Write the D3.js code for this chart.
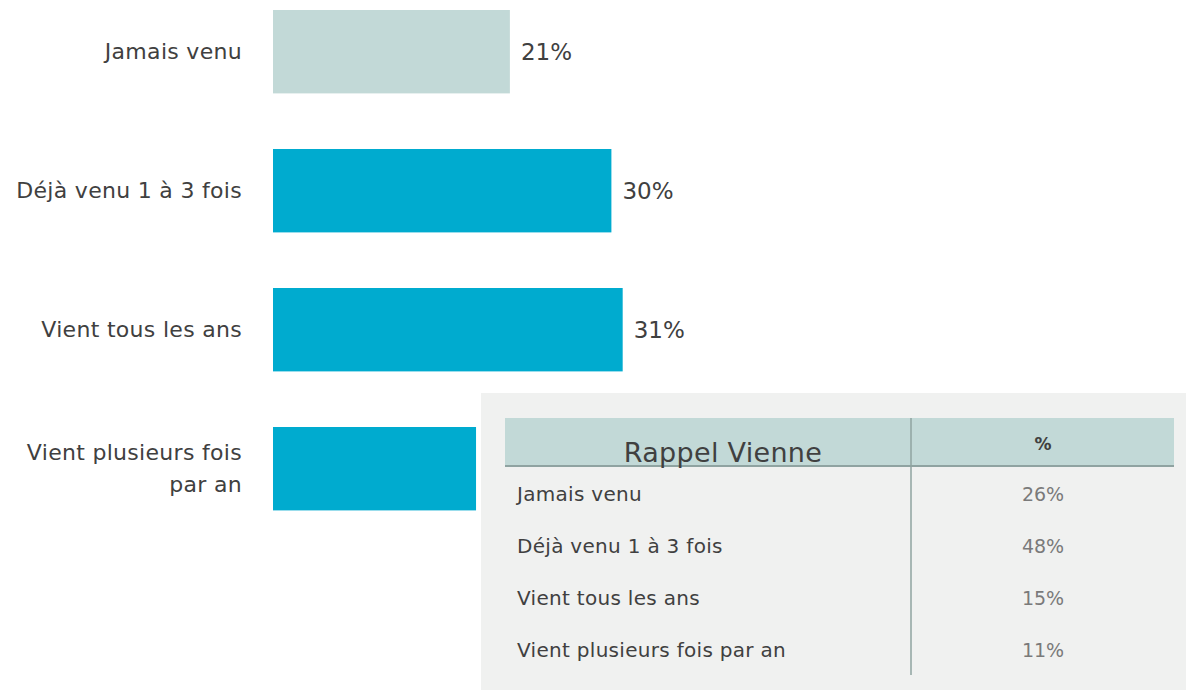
<!DOCTYPE html>
<html>
<head>
<meta charset="utf-8">
<script src="https://cdn.jsdelivr.net/npm/d3@7"></script>
<style>
  body { margin: 0; background: #fff; }
  svg { display: block; font-family: "DejaVu Sans", sans-serif; }
</style>
</head>
<body>
<svg width="1186" height="690"></svg>
<script>
  // bar chart data
  const categories = ["Jamais venu", "Déjà venu 1 à 3 fois", "Vient tous les ans", "Vient plusieurs fois par an"];
  const categoryLines = [["Jamais venu"], ["Déjà venu 1 à 3 fois"], ["Vient tous les ans"], ["Vient plusieurs fois", "par an"]];
  const values = [21, 30, 31, 18];

  // overlay table ("Rappel Vienne")
  const tableTitle = "Rappel Vienne";
  const tableHead = "%";
  const tableRows = ["Jamais venu", "Déjà venu 1 à 3 fois", "Vient tous les ans", "Vient plusieurs fois par an"];
  const tableValues = ["26%", "48%", "15%", "11%"];

  const svg = d3.select("svg");

  const xScale = d3.scaleLinear().domain([0, 100]).range([273, 273 + 1128]);
  const yScale = d3.scaleBand()
    .domain(categories)
    .range([-17.8, 538.2])
    .paddingInner(0.4)
    .paddingOuter(0.2);

  const bars = svg.append("g");

  bars.selectAll("rect")
    .data(values)
    .enter()
    .append("rect")
    .attr("x", xScale(0))
    .attr("y", (d, i) => yScale(categories[i]))
    .attr("width", (d) => xScale(d) - xScale(0))
    .attr("height", yScale.bandwidth())
    .attr("fill", (d, i) => (i === 0 ? "#c2d9d7" : "#00abcf"));

  bars.selectAll("text.value")
    .data(values)
    .enter()
    .append("text")
    .attr("class", "value")
    .attr("x", (d) => xScale(d) + 11)
    .attr("y", (d, i) => yScale(categories[i]) + yScale.bandwidth() / 2)
    .attr("dy", "0.35em")
    .attr("fill", "#404040")
    .style("font-size", "23px")
    .text((d) => d + "%");

  const labels = bars.selectAll("text.cat")
    .data(categoryLines)
    .enter()
    .append("text")
    .attr("class", "cat")
    .attr("text-anchor", "end")
    .attr("fill", "#404040")
    .style("font-size", "22px")
    .style("letter-spacing", "0.3px")
    .attr("transform", (d, i) => `translate(242, ${yScale(categories[i]) + yScale.bandwidth() / 2})`);

  labels.selectAll("tspan")
    .data((d) => d.map((t, j) => ({ t, j, n: d.length })))
    .enter()
    .append("tspan")
    .attr("x", 0)
    .attr("y", (d) => (d.j - (d.n - 1) / 2) * 32)
    .attr("dy", "0.35em")
    .text((d) => d.t);

  // table overlay
  const tbl = svg.append("g");

  tbl.append("rect")
    .attr("x", 481).attr("y", 393)
    .attr("width", 705).attr("height", 297)
    .attr("fill", "#f0f1f0");

  tbl.append("rect")
    .attr("x", 505).attr("y", 418)
    .attr("width", 669).attr("height", 48)
    .attr("fill", "#c2d9d7");

  tbl.append("line")
    .attr("x1", 505).attr("x2", 1174)
    .attr("y1", 466).attr("y2", 466)
    .attr("stroke", "#8fa3a1").attr("stroke-width", 2);

  tbl.append("line")
    .attr("x1", 911).attr("x2", 911)
    .attr("y1", 418).attr("y2", 675)
    .attr("stroke", "#8fa3a1").attr("stroke-width", 1.5);

  tbl.append("text")
    .attr("x", 723).attr("y", 462)
    .attr("text-anchor", "middle")
    .attr("fill", "#404040")
    .style("font-size", "27px")
    .style("letter-spacing", "0.3px")
    .text(tableTitle);

  tbl.append("text")
    .attr("x", 1043).attr("y", 450)
    .attr("text-anchor", "middle")
    .attr("fill", "#404040")
    .style("font-size", "17px")
    .style("font-weight", "bold")
    .text(tableHead);

  const rowY = d3.scalePoint().domain(tableRows).range([494, 650]);

  tbl.selectAll("text.row")
    .data(tableRows)
    .enter()
    .append("text")
    .attr("class", "row")
    .attr("x", 517)
    .attr("y", (d) => rowY(d))
    .attr("dy", "0.35em")
    .attr("fill", "#404040")
    .style("font-size", "20px")
    .style("letter-spacing", "0.3px")
    .text((d) => d);

  tbl.selectAll("text.val")
    .data(tableValues)
    .enter()
    .append("text")
    .attr("class", "val")
    .attr("x", 1043)
    .attr("y", (d, i) => rowY(tableRows[i]))
    .attr("dy", "0.35em")
    .attr("text-anchor", "middle")
    .attr("fill", "#7a7a7a")
    .style("font-size", "19px")
    .text((d) => d);
</script>
</body>
</html>
